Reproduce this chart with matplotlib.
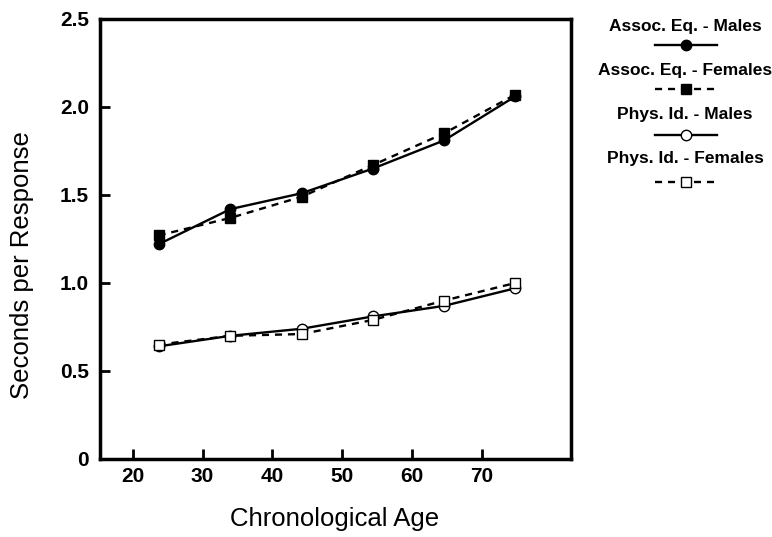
import matplotlib
matplotlib.use("Agg")
import matplotlib.pyplot as plt
from matplotlib.lines import Line2D

plt.rcParams['font.family'] = ['Liberation Sans', 'DejaVu Sans']

ages = [23.7, 34.0, 44.2, 54.4, 64.6, 74.8]
assoc_males = [1.22, 1.42, 1.51, 1.65, 1.81, 2.06]
assoc_females = [1.27, 1.37, 1.49, 1.67, 1.85, 2.07]
phys_males = [0.64, 0.70, 0.74, 0.81, 0.87, 0.97]
phys_females = [0.65, 0.70, 0.71, 0.79, 0.90, 1.00]
labels = ["Assoc. Eq. - Males", "Assoc. Eq. - Females",
          "Phys. Id. - Males", "Phys. Id. - Females"]
xticks = [20, 30, 40, 50, 60, 70]
yticks = [0, 0.5, 1.0, 1.5, 2.0, 2.5]
ytick_labels = ["0", "0.5", "1.0", "1.5", "2.0", "2.5"]

fig = plt.figure(figsize=(7.72, 5.37), dpi=100)
ax = fig.add_axes([100/772, 1-459/537, 471/772, 440/537])

styles = [
    dict(ls='-', marker='o', mfc='black'),
    dict(ls='--', marker='s', mfc='black'),
    dict(ls='-', marker='o', mfc='white'),
    dict(ls='--', marker='s', mfc='white'),
]
series = [assoc_males, assoc_females, phys_males, phys_females]
for s, st in zip(series, styles):
    line, = ax.plot(ages, s, color='black', lw=1.7, ls=st['ls'], marker=st['marker'],
                    mfc=st['mfc'], mec='black', mew=1.0, ms=7.5)
    if st['ls'] == '--':
        line.set_dashes((3, 2.5))

ax.set_xlim(15.3, 82.8)
ax.set_ylim(0, 2.5)
ax.set_xticks(xticks)
ax.set_yticks(yticks)
ax.set_yticklabels(ytick_labels)
for sp in ax.spines.values():
    sp.set_linewidth(2.5)
ax.tick_params(direction='in', length=7, width=2, labelsize=15)
ax.tick_params(axis='x', pad=6)
ax.tick_params(axis='y', pad=8)
for t in ax.get_xticklabels() + ax.get_yticklabels():
    t.set_fontweight('bold')

fig.text(335/772, 1-519/537, "Chronological Age", ha='center', va='center', fontsize=18.5)
fig.text(22/772, 1-265/537, "Seconds per Response", ha='center', va='center',
         rotation=90, fontsize=18.5)

# legend (stacked, text above sample)
text_y = [27, 70, 115, 158]
line_y = [45, 89, 135, 182]
for lab, ty, ly, st in zip(labels, text_y, line_y, styles):
    fig.text(685/772, 1-ty/537, lab, ha='center', va='center',
             fontsize=12.5, fontweight='bold')
    yy = 1-ly/537
    ln = Line2D([655/772, 717/772], [yy, yy], transform=fig.transFigure,
                color='black', lw=1.7, ls=st['ls'])
    if st['ls'] == '--':
        ln.set_dashes((3, 2.5))
    fig.add_artist(ln)
    mk = Line2D([686/772], [yy], transform=fig.transFigure, color='black',
                marker=st['marker'], mfc=st['mfc'], mec='black', ms=7.5, lw=0)
    fig.add_artist(mk)

fig.savefig("out.png", dpi=100)
